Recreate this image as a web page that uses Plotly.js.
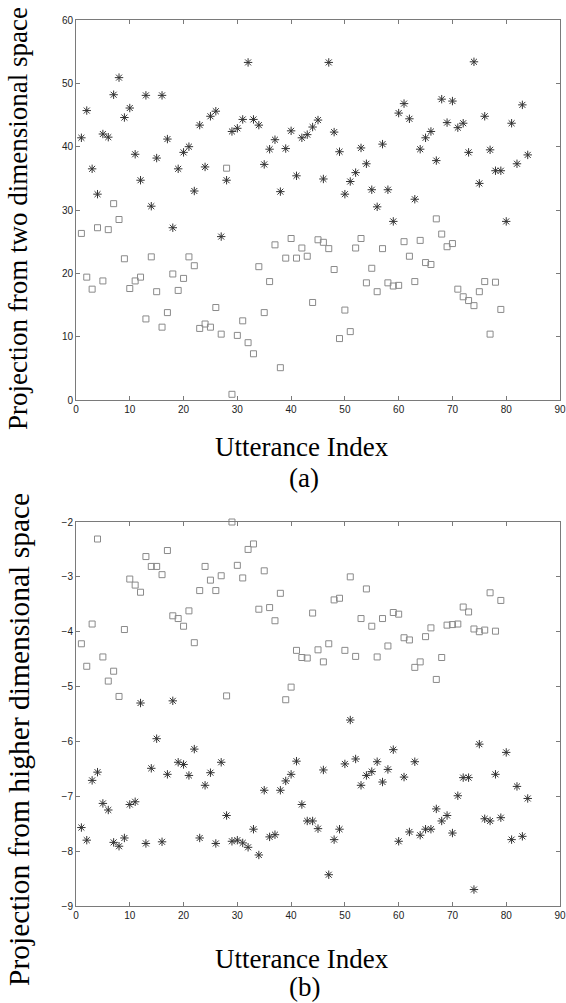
<!DOCTYPE html>
<html>
<head>
<meta charset="utf-8">
<script src="https://cdn.plot.ly/plotly-3.0.1.min.js"></script>
<style>html,body{margin:0;padding:0;background:#fff;}#plot{width:566px;height:1003px;}</style>
</head>
<body>
<div id="plot"></div>
<script>
// (a) Projection from two dimensional space
const squaresA = [26.3,19.4,17.5,27.2,18.8,26.9,31.0,28.5,22.3,17.6,
  18.8,19.4,12.8,22.6,17.1,11.5,13.8,19.9,17.3,19.2,
  22.6,21.2,11.3,12.0,11.5,14.6,10.4,36.6,0.9,10.2,
  12.5,9.05,7.3,21.05,13.8,18.7,24.5,5.1,22.4,25.5,
  22.4,24.0,22.7,15.4,25.3,24.9,23.9,20.6,9.7,14.2,
  10.8,24.0,25.5,18.5,20.8,17.1,23.9,18.5,18.0,18.1,
  25.0,22.7,18.7,25.2,21.7,21.4,28.6,26.2,24.2,24.7,
  17.5,16.3,15.7,14.9,17.1,18.7,10.4,18.6,14.3];
const starsA = [41.4,45.7,36.5,32.5,42.0,41.5,48.2,50.9,44.6,46.1,
  38.8,34.7,48.1,30.6,38.2,48.1,41.2,27.2,36.5,39.1,
  40.0,33.0,43.4,36.8,44.8,45.6,25.8,34.7,42.4,42.9,
  44.3,53.3,44.3,43.4,37.2,39.6,41.1,32.9,39.7,42.5,
  35.4,41.4,41.9,43.1,44.2,34.9,53.3,42.3,39.2,32.5,
  34.5,35.9,39.8,37.3,33.2,30.5,40.4,33.2,28.2,45.3,
  46.8,44.4,31.7,39.6,41.4,42.4,37.8,47.5,43.8,47.2,
  43.0,43.7,39.1,53.4,34.2,44.8,39.5,36.2,36.2,28.2,
  43.7,37.3,46.6,38.7];
// (b) Projection from higher dimensional space
const squaresB = [-4.22,-4.63,-3.86,-2.31,-4.46,-4.90,-4.72,-5.18,-3.96,-3.04,
  -3.15,-3.28,-2.63,-2.81,-2.81,-2.96,-2.52,-3.71,-3.76,-3.90,
  -3.62,-4.20,-3.25,-2.81,-3.06,-3.25,-2.98,-5.17,-2.00,-2.79,
  -3.02,-2.50,-2.40,-3.59,-2.89,-3.56,-3.80,-3.30,-5.24,-5.01,
  -4.34,-4.47,-4.48,-3.66,-4.33,-4.55,-4.22,-3.42,-3.39,-4.34,
  -3.00,-4.45,-3.76,-3.22,-3.90,-4.46,-3.76,-4.26,-3.65,-3.68,
  -4.11,-4.15,-4.65,-4.55,-4.09,-3.93,-4.87,-4.47,-3.88,-3.87,
  -3.86,-3.55,-3.64,-3.95,-4.00,-3.97,-3.29,-3.99,-3.43];
const starsB = [-7.57,-7.80,-6.71,-6.56,-7.13,-7.25,-7.84,-7.91,-7.76,-7.15,
  -7.10,-5.30,-7.86,-6.49,-5.95,-7.83,-6.60,-5.26,-6.38,-6.42,
  -6.62,-6.14,-7.76,-6.80,-6.57,-7.86,-6.38,-7.35,-7.82,-7.80,
  -7.85,-7.93,-7.60,-8.07,-6.89,-7.74,-7.70,-6.89,-6.72,-6.60,
  -6.36,-7.15,-7.45,-7.45,-7.59,-6.52,-8.43,-7.79,-7.60,-6.41,
  -5.61,-6.32,-6.80,-6.62,-6.55,-6.37,-6.74,-6.51,-6.15,-7.82,
  -6.65,-7.65,-6.37,-7.71,-7.60,-7.60,-7.23,-7.45,-7.35,-7.67,
  -6.99,-6.66,-6.66,-8.70,-6.05,-7.41,-7.45,-6.60,-7.39,-6.20,
  -7.79,-6.82,-7.73,-7.04];
const xTicks = [0,10,20,30,40,50,60,70,80,90];
const yTicksA = [0,10,20,30,40,50,60];
const yTicksB = [-9,-8,-7,-6,-5,-4,-3,-2];
const yTitleA = 'Projection from two dimensional space';
const yTitleB = 'Projection from higher dimensional space';
const xTitle = 'Utterance Index';
const panelA = '(a)';
const panelB = '(b)';

const idx = arr => arr.map((_, i) => i + 1);

const W = 566, H = 1003;
const L = 76, R = 560, T = 20, B = 906;
const px = x => (x - L) / (R - L);
const py = y => (B - y) / (B - T);

const sqStyle = {symbol: 'square-open', size: 6, color: '#8a8a8a', line: {color: '#8a8a8a', width: 1}};
const stStyle = {symbol: 'asterisk-open', size: 7, color: '#333', line: {color: '#333', width: 1}};

const traces = [
  {x: idx(squaresA), y: squaresA, type: 'scatter', mode: 'markers', marker: sqStyle, xaxis: 'x', yaxis: 'y', cliponaxis: false},
  {x: idx(starsA), y: starsA, type: 'scatter', mode: 'markers', marker: stStyle, xaxis: 'x', yaxis: 'y', cliponaxis: false},
  {x: idx(squaresB), y: squaresB, type: 'scatter', mode: 'markers', marker: sqStyle, xaxis: 'x2', yaxis: 'y2', cliponaxis: false},
  {x: idx(starsB), y: starsB, type: 'scatter', mode: 'markers', marker: stStyle, xaxis: 'x2', yaxis: 'y2', cliponaxis: false}
];

const tickFont = {family: 'Liberation Sans, Arial, sans-serif', size: 10, color: '#222'};
const axBase = {
  showgrid: false, zeroline: false, showline: true, linecolor: '#7a7a7a', linewidth: 1,
  mirror: 'ticks', ticks: 'inside', ticklen: 4, tickcolor: '#7a7a7a', tickfont: tickFont,
  fixedrange: true
};
const serif = {family: 'Liberation Serif, Times New Roman, serif', size: 27, color: '#000'};
const serifB = Object.assign({}, serif, {size: 29.5});

const layout = {
  width: W, height: H,
  margin: {l: L, r: W - R, t: T, b: H - B, pad: 0},
  paper_bgcolor: '#fff', plot_bgcolor: '#fff',
  showlegend: false,
  xaxis: Object.assign({}, axBase, {domain: [0, 1], anchor: 'y', range: [0, 90], tickvals: xTicks}),
  yaxis: Object.assign({}, axBase, {domain: [py(400), 1], anchor: 'x', range: [0, 60], tickvals: yTicksA}),
  xaxis2: Object.assign({}, axBase, {domain: [0, 1], anchor: 'y2', range: [0, 90], tickvals: xTicks}),
  yaxis2: Object.assign({}, axBase, {domain: [0, py(522)], anchor: 'x2', range: [-9, -2], tickvals: yTicksB}),
  annotations: [
    {text: xTitle, xref: 'paper', yref: 'paper', x: px(302), y: py(447), showarrow: false, font: serif, xanchor: 'center', yanchor: 'middle'},
    {text: panelA, xref: 'paper', yref: 'paper', x: px(304), y: py(478), showarrow: false, font: serif, xanchor: 'center', yanchor: 'middle'},
    {text: xTitle, xref: 'paper', yref: 'paper', x: px(302), y: py(959), showarrow: false, font: serif, xanchor: 'center', yanchor: 'middle'},
    {text: panelB, xref: 'paper', yref: 'paper', x: px(304), y: py(987), showarrow: false, font: serif, xanchor: 'center', yanchor: 'middle'},
    {text: yTitleA, xref: 'paper', yref: 'paper', x: px(18), y: py(219), showarrow: false, font: serif, textangle: -90, xanchor: 'center', yanchor: 'middle'},
    {text: yTitleB, xref: 'paper', yref: 'paper', x: px(19), y: py(740), showarrow: false, font: serifB, textangle: -90, xanchor: 'center', yanchor: 'middle'}
  ]
};

Plotly.newPlot('plot', traces, layout, {displayModeBar: false, staticPlot: true});
</script>
</body>
</html>
